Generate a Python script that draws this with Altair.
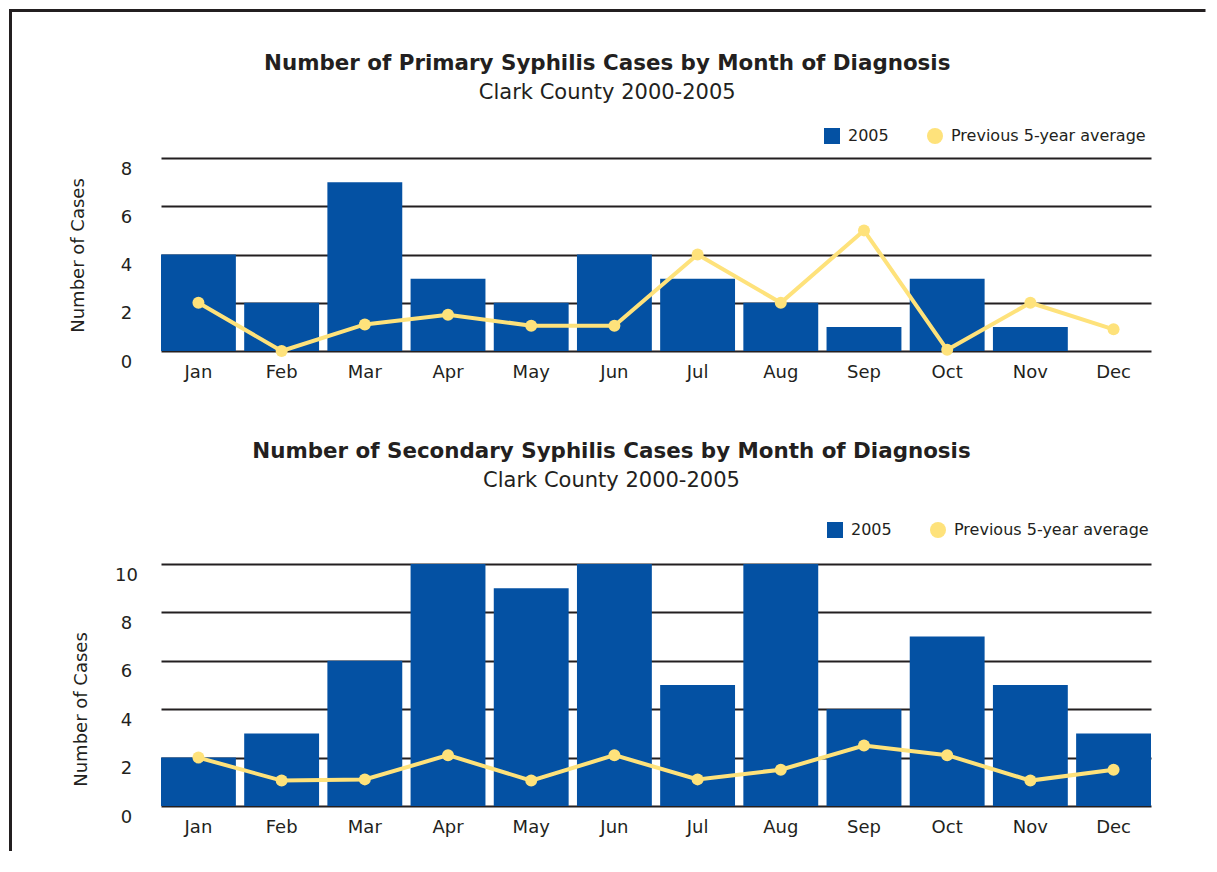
import altair as alt
import pandas as pd

# ---- data ----
months = ["Jan", "Feb", "Mar", "Apr", "May", "Jun", "Jul", "Aug", "Sep", "Oct", "Nov", "Dec"]
series_names = ["2005", "Previous 5-year average"]

primary_2005 = [4, 2, 7, 3, 2, 4, 3, 2, 1, 3, 1, 0]
primary_avg = [2.0, 0.0, 1.1, 1.5, 1.05, 1.05, 4.0, 2.0, 5.0, 0.05, 2.0, 0.9]

secondary_2005 = [2, 3, 6, 10, 9, 10, 5, 10, 4, 7, 5, 3]
secondary_avg = [2.0, 1.05, 1.1, 2.1, 1.05, 2.1, 1.1, 1.5, 2.5, 2.1, 1.05, 1.5]

primary_ticks = [0, 2, 4, 6, 8]
secondary_ticks = [0, 2, 4, 6, 8, 10]

title_primary = "Number of Primary Syphilis Cases by Month of Diagnosis"
title_secondary = "Number of Secondary Syphilis Cases by Month of Diagnosis"
subtitle_text = "Clark County 2000-2005"
y_title = "Number of Cases"

# ---- styles ----
BLUE = "#0451a3"
YELLOW = "#fee27b"
INK = "#231f20"
FONT = "DejaVu Sans"


def panel(values, avgs, ticks, ymax, height, legend_x, legend_y, title_x, title_y,
          t_offset, t_dy, title_text, frame=False):
    bars_df = pd.DataFrame({"month": months, "value": values, "series": series_names[0]})
    avg_df = pd.DataFrame({"month": months, "value": avgs, "series": series_names[1]})

    X = alt.X("month:N", sort=months,
              scale=alt.Scale(paddingInner=0.1, paddingOuter=0),
              axis=alt.Axis(title=None, labelAngle=0, domain=False, ticks=False,
                            labelFont=FONT, labelFontSize=18, labelColor=INK,
                            labelPadding=12, grid=False))
    Y = alt.Y("value:Q", scale=alt.Scale(domain=[0, ymax], nice=False),
              axis=alt.Axis(values=ticks, title=y_title, titleFont=FONT,
                            titleFontSize=18, titleFontWeight="normal", titleColor=INK,
                            titleX=title_x, titleY=title_y, titleAngle=-90,
                            titleAlign="center", titleBaseline="middle",
                            labelFont=FONT, labelFontSize=18, labelColor=INK,
                            labelAlign="center", labelBaseline="middle",
                            labelPadding=35, labelOffset=11, labelFlush=False,
                            labelOverlap=False, labelBound=False,
                            domain=False, ticks=False, tickSize=0,
                            grid=True, gridColor=INK, gridWidth=2, gridOpacity=1))
    legend = alt.Legend(orient="none", legendX=legend_x, legendY=legend_y,
                        direction="horizontal", title=None, symbolSize=256,
                        labelFont=FONT, labelFontSize=16, labelColor=INK,
                        labelLimit=0, columnPadding=38, labelOffset=8, padding=0,
                        symbolStrokeWidth=0, symbolOpacity=1)
    color = alt.Color("series:N", scale=alt.Scale(domain=series_names, range=[BLUE, YELLOW]),
                      legend=legend)
    shape = alt.Shape("series:N", scale=alt.Scale(domain=series_names, range=["square", "circle"]),
                      legend=legend)

    bars = alt.Chart(bars_df).mark_bar(opacity=1).encode(x=X, y=Y, color=color)
    line = alt.Chart(avg_df).mark_line(color=YELLOW, strokeWidth=4).encode(x=X, y=Y)
    pts = alt.Chart(avg_df).mark_point(filled=True, size=144, opacity=1).encode(
        x=X, y=Y, color=color, shape=shape)

    layers = [bars, line, pts]
    if frame:
        fdf = pd.DataFrame({"k": [0]})
        top = alt.Chart(fdf).mark_rule(color=INK, strokeWidth=3, strokeCap="square").encode(
            x=alt.value(-150.5), x2=alt.value(1043), y=alt.value(-147.5))
        left = alt.Chart(fdf).mark_rule(color=INK, strokeWidth=3, strokeCap="butt").encode(
            x=alt.value(-150.5), y=alt.value(-147.5), y2=alt.value(693))
        layers += [top, left]

    return alt.layer(*layers).properties(
        width=990, height=height,
        title=alt.TitleParams(text=title_text,
                              subtitle=subtitle_text, font=FONT, fontSize=21.4,
                              fontWeight="bold", color=INK, subtitleFont=FONT,
                              subtitleFontSize=21, subtitleColor=INK,
                              subtitlePadding=8, anchor="middle", frame="bounds",
                              offset=t_offset, dy=t_dy))


top_chart = panel(primary_2005, primary_avg, primary_ticks, 8, 193,
                  663, -30, -83, 97, 0, 95, title_primary, frame=True)
bottom_chart = panel(secondary_2005, secondary_avg, secondary_ticks, 10, 242,
                     666, -42, -80, 145, 31, 0, title_secondary, frame=False)

chart = alt.vconcat(top_chart, bottom_chart, spacing=213, bounds="flush").resolve_scale(
    color="independent", shape="independent"
).properties(
    padding={"left": 0, "top": 0, "right": 0, "bottom": 0},
    background="white",
).configure_view(stroke=None)

chart.save("out.html", embed_options={"renderer": "svg", "actions": False})
